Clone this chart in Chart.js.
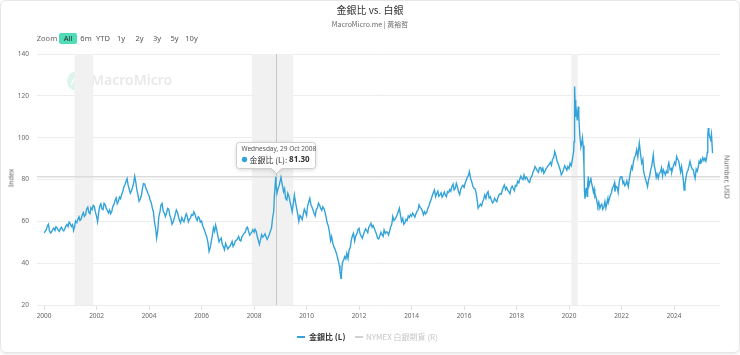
<!DOCTYPE html>
<html><head><meta charset="utf-8">
<script src="https://cdn.jsdelivr.net/npm/chart.js@4.4.1/dist/chart.umd.min.js"></script>
<style>
html,body{margin:0;padding:0;background:#fff;}
#wrap{position:relative;width:740px;height:355px;overflow:hidden;font-family:"Noto Sans","Noto Sans CJK TC",sans-serif;}
#card{position:absolute;left:0;top:0;width:738px;height:351px;border:1px solid #e6e6e6;border-radius:6px;box-shadow:0 1px 3px rgba(0,0,0,0.10);}
canvas{position:absolute;left:0;top:0;}
.t{position:absolute;white-space:nowrap;}
.btn{position:absolute;top:33px;height:11px;line-height:11px;font-size:7.5px;color:#555;text-align:center;width:20px;}
</style></head>
<body>
<div id="wrap">
<div id="card"></div>
<canvas id="c" width="740" height="355"></canvas>
<div class="t" id="title" style="left:0;width:740px;top:3px;text-align:center;font-size:10px;line-height:13px;color:#333;font-family:'Noto Sans CJK TC','Noto Sans',sans-serif;"></div>
<div class="t" id="subtitle" style="left:0;width:740px;top:20px;text-align:center;font-size:7px;line-height:9px;color:#666;font-family:'Noto Sans CJK TC','Noto Sans',sans-serif;"></div>
<div id="zoombar"></div>
<div class="t" id="ytitleL" style="left:11px;top:178px;font-size:7px;color:#666;transform:translate(-50%,-50%) rotate(-90deg);"></div>
<div class="t" id="ytitleR" style="left:727px;top:177px;font-size:7px;color:#666;transform:translate(-50%,-50%) rotate(90deg);"></div>
<div id="legend"></div>
</div>
<script>
// ---- data ----
const chartTitle = "金銀比 vs. 白銀";
const chartSubtitle = "MacroMicro.me | 黃裕哲";
const zoomButtons = ["All","6m","YTD","1y","2y","3y","5y","10y"];
const seriesNames = ["金銀比 (L)", "NYMEX 白銀期貨 (R)"];
const leftAxisTitle = "Index";
const rightAxisTitle = "Number, USD";
const yTicks = [20, 40, 60, 80, 100, 120, 140];
const xTickYears = [2000,2002,2004,2006,2008,2010,2012,2014,2016,2018,2020,2022,2024];
const recessionStart = ["2001-03-01","2007-12-01","2020-02-01"];
const recessionEnd   = ["2001-11-15","2009-06-30","2020-04-30"];
const tooltipDate = "2008-10-29";
const tooltipHeader = "Wednesday, 29 Oct 2008";

// main readings (mid-month and turning points)
const dates = [
"2000-01-03","2000-02-15","2000-03-15","2000-04-15","2000-05-15","2000-06-15","2000-07-15","2000-08-15","2000-09-15","2000-10-15","2000-11-15","2000-12-15",
"2001-01-15","2001-02-15","2001-03-15","2001-04-15","2001-05-15","2001-06-15","2001-07-15","2001-08-15","2001-09-15","2001-10-15","2001-11-15","2001-12-15",
"2002-01-15","2002-02-15","2002-03-15","2002-04-15","2002-05-15","2002-06-15","2002-07-15","2002-08-15","2002-09-15","2002-10-15","2002-11-15","2002-12-15",
"2003-01-15","2003-02-15","2003-03-15","2003-04-15","2003-05-15","2003-06-15","2003-07-15","2003-08-15","2003-09-15","2003-10-15","2003-11-15","2003-12-15",
"2004-01-15","2004-02-15","2004-03-15","2004-04-15","2004-05-15","2004-06-15","2004-07-15","2004-08-15","2004-09-15","2004-10-15","2004-11-15","2004-12-15",
"2005-01-15","2005-02-15","2005-03-15","2005-04-15","2005-05-15","2005-06-15","2005-07-15","2005-08-15","2005-09-15","2005-10-15","2005-11-15","2005-12-15",
"2006-01-15","2006-02-15","2006-03-15","2006-04-15","2006-05-15","2006-06-15","2006-07-15","2006-08-15","2006-09-15","2006-10-15","2006-11-15","2006-12-15",
"2007-01-15","2007-02-15","2007-03-15","2007-04-15","2007-05-15","2007-06-15","2007-07-15","2007-08-15","2007-09-15","2007-10-15","2007-11-15","2007-12-15",
"2008-01-15","2008-02-15","2008-03-15","2008-04-15","2008-05-15","2008-06-15","2008-07-15","2008-08-15","2008-09-15","2008-10-10","2008-10-29","2008-11-15","2008-12-15",
"2009-01-10","2009-02-15","2009-03-15","2009-04-15","2009-05-15","2009-06-15","2009-07-15","2009-08-15","2009-09-15","2009-10-15","2009-11-15","2009-12-15",
"2010-01-15","2010-02-15","2010-03-15","2010-04-15","2010-05-15","2010-06-15","2010-07-15","2010-08-15","2010-09-15","2010-10-15","2010-11-15","2010-12-15",
"2011-01-15","2011-02-15","2011-03-15","2011-04-25","2011-05-15","2011-06-15","2011-07-15","2011-08-15","2011-09-15","2011-10-15","2011-11-15","2011-12-15",
"2012-01-15","2012-02-15","2012-03-15","2012-04-15","2012-05-15","2012-06-15","2012-07-15","2012-08-15","2012-09-15","2012-10-15","2012-11-15","2012-12-15",
"2013-01-15","2013-02-15","2013-03-15","2013-04-15","2013-05-15","2013-06-15","2013-07-15","2013-08-15","2013-09-15","2013-10-15","2013-11-15","2013-12-15",
"2014-01-15","2014-02-15","2014-03-15","2014-04-15","2014-05-15","2014-06-15","2014-07-15","2014-08-15","2014-09-15","2014-10-15","2014-11-15","2014-12-15",
"2015-01-15","2015-02-15","2015-03-15","2015-04-15","2015-05-15","2015-06-15","2015-07-15","2015-08-15","2015-09-15","2015-10-15","2015-11-15","2015-12-15",
"2016-01-15","2016-02-15","2016-03-15","2016-04-15","2016-05-15","2016-06-15","2016-07-15","2016-08-15","2016-09-15","2016-10-15","2016-11-15","2016-12-15",
"2017-01-15","2017-02-15","2017-03-15","2017-04-15","2017-05-15","2017-06-15","2017-07-15","2017-08-15","2017-09-15","2017-10-15","2017-11-15","2017-12-15",
"2018-01-15","2018-02-15","2018-03-15","2018-04-15","2018-05-15","2018-06-15","2018-07-15","2018-08-15","2018-09-15","2018-10-15","2018-11-15","2018-12-15",
"2019-01-15","2019-02-15","2019-03-15","2019-04-15","2019-05-15","2019-06-15","2019-07-15","2019-08-15","2019-09-15","2019-10-15","2019-11-15","2019-12-15",
"2020-01-15","2020-02-15","2020-03-05","2020-03-18","2020-03-30","2020-04-15","2020-05-08","2020-05-25","2020-06-15","2020-07-05","2020-07-27","2020-08-10","2020-08-25","2020-09-08","2020-09-25","2020-10-20","2020-11-10","2020-12-05","2020-12-25",
"2021-01-15","2021-02-05","2021-03-05","2021-04-01","2021-05-01","2021-06-10","2021-07-15","2021-08-15","2021-09-10","2021-10-01","2021-11-01","2021-12-01",
"2022-01-05","2022-02-01","2022-03-01","2022-04-05","2022-05-20","2022-06-15","2022-07-30","2022-09-05","2022-10-08","2022-11-15","2022-12-28",
"2023-01-25","2023-02-25","2023-03-18","2023-04-15","2023-05-26","2023-06-25","2023-08-05","2023-09-01","2023-10-08","2023-11-08","2023-12-15",
"2024-01-08","2024-02-06","2024-03-05","2024-04-15","2024-05-20","2024-06-15","2024-07-10","2024-08-10","2024-09-10","2024-10-20","2024-11-20","2024-12-28",
"2025-01-20","2025-03-06","2025-04-08","2025-04-22","2025-05-10","2025-06-20"
];
const goldSilverRatio = [
54.5,57.8,55.6,55.0,56.8,57.4,55.8,56.6,55.9,56.4,58.5,59.6,
57.5,55.6,60.2,61.0,60.4,63.0,62.4,65.8,64.2,66.5,67.6,64.5,
59.8,67.5,66.0,68.6,66.2,64.0,63.6,67.2,70.0,68.4,71.6,72.8,
76.4,79.2,77.4,73.4,76.2,81.6,75.0,69.6,72.2,78.0,76.0,73.4,
70.2,66.4,60.0,52.0,62.0,67.8,65.0,62.3,66.2,63.0,58.6,61.2,
65.4,62.0,59.2,60.6,61.6,62.4,61.0,63.2,64.6,61.6,62.2,59.6,
58.0,55.2,52.4,45.6,50.2,57.0,58.2,53.0,51.2,49.0,46.4,48.2,
47.6,49.2,48.0,50.6,51.6,51.0,52.6,54.2,56.6,55.4,54.0,56.0,
56.2,52.6,49.0,53.6,53.0,52.6,52.4,55.2,61.6,72.0,81.3,73.4,77.0,
81.0,74.2,71.0,73.4,69.6,64.6,72.6,66.4,60.0,62.2,63.2,64.6,
67.2,71.0,67.0,63.9,65.6,68.7,66.3,67.0,64.4,59.2,55.0,52.7,
47.9,45.2,41.5,32.8,40.2,43.1,44.7,46.2,51.0,54.3,53.0,55.9,
54.0,51.9,55.0,55.6,57.2,59.1,58.0,55.2,51.9,53.0,53.6,55.9,
55.0,53.5,57.2,62.3,61.0,63.2,66.3,59.9,58.6,61.0,62.6,63.2,
63.9,62.0,64.6,67.9,66.2,63.1,63.6,66.2,69.2,72.2,75.0,73.2,
72.0,73.6,72.4,72.6,74.2,75.2,76.6,75.0,78.2,74.2,75.2,77.2,
78.2,81.2,83.8,79.2,75.8,74.0,66.3,68.2,69.2,72.6,73.4,71.2,
70.2,69.4,70.2,71.2,73.2,74.6,77.4,76.2,74.2,75.6,75.8,77.2,
79.2,80.2,80.6,82.2,81.2,79.0,80.6,83.2,86.2,84.2,85.6,84.0,
83.0,85.2,86.6,88.2,89.6,93.4,89.2,86.2,82.2,84.6,85.6,86.2,
87.8,89.4,93.5,124.5,110.0,111.7,114.9,104.0,95.7,99.8,86.2,70.8,75.6,72.0,81.4,79.2,78.2,74.0,72.0,
71.0,67.4,66.3,68.2,67.0,68.7,70.6,73.8,76.6,74.2,76.2,79.2,
81.4,79.0,77.6,76.6,86.2,88.4,94.2,97.4,87.8,82.2,76.6,
81.4,86.4,91.8,84.2,80.6,83.4,84.6,82.2,86.4,84.6,85.6,
88.2,91.0,89.0,86.2,75.0,80.8,84.2,88.6,85.0,80.6,84.0,87.8,
88.6,90.2,93.0,104.6,100.5,92.6
];

// additional in-between readings (wiggles between the main readings)
const extraDates = [
"2000-02-01","2000-03-01","2000-04-01","2000-05-01","2000-06-01","2000-07-01","2000-08-01","2000-09-01","2000-10-01","2000-11-01","2000-12-01",
"2001-01-01","2001-02-01","2001-03-01","2001-04-01","2001-05-01","2001-06-01","2001-07-01","2001-08-01","2001-09-01","2001-10-01","2001-11-01","2001-12-01",
"2002-01-01","2002-02-01","2002-03-01","2002-04-01","2002-05-01","2002-06-01","2002-07-01","2002-08-01","2002-09-01","2002-10-01","2002-11-01","2002-12-01",
"2003-01-01","2003-02-01","2003-03-01","2003-04-01","2003-05-01","2003-06-01","2003-07-01","2003-08-01","2003-09-01","2003-10-01","2003-11-01","2003-12-01",
"2004-01-01","2004-02-01","2004-03-01","2004-04-01","2004-05-01","2004-06-01","2004-07-01","2004-08-01","2004-09-01","2004-10-01","2004-11-01","2004-12-01",
"2005-01-01","2005-02-01","2005-03-01","2005-04-01","2005-05-01","2005-06-01","2005-07-01","2005-08-01","2005-09-01","2005-10-01","2005-11-01","2005-12-01",
"2006-01-01","2006-02-01","2006-03-01","2006-04-01","2006-05-01","2006-06-01","2006-07-01","2006-08-01","2006-09-01","2006-10-01","2006-11-01","2006-12-01",
"2007-01-01","2007-02-01","2007-03-01","2007-04-01","2007-05-01","2007-06-01","2007-07-01","2007-08-01","2007-09-01","2007-10-01","2007-11-01","2007-12-01",
"2008-01-01","2008-02-01","2008-03-01","2008-04-01","2008-05-01","2008-06-01","2008-07-01","2008-08-01","2008-09-01","2008-10-01","2008-11-01","2008-12-01",
"2009-02-01","2009-03-01","2009-04-01","2009-05-01","2009-06-01","2009-07-01","2009-08-01","2009-09-01","2009-10-01","2009-11-01","2009-12-01",
"2010-01-01","2010-02-01","2010-03-01","2010-04-01","2010-05-01","2010-06-01","2010-07-01","2010-08-01","2010-09-01","2010-10-01","2010-11-01","2010-12-01",
"2011-01-01","2011-02-01","2011-03-01","2011-04-01","2011-04-10","2011-05-01","2011-06-01","2011-07-01","2011-08-01","2011-09-01","2011-10-01","2011-11-01","2011-12-01",
"2012-01-01","2012-02-01","2012-03-01","2012-04-01","2012-05-01","2012-06-01","2012-07-01","2012-08-01","2012-09-01","2012-10-01","2012-11-01","2012-12-01",
"2013-01-01","2013-02-01","2013-03-01","2013-04-01","2013-05-01","2013-06-01","2013-07-01","2013-08-01","2013-09-01","2013-10-01","2013-11-01","2013-12-01",
"2014-01-01","2014-02-01","2014-03-01","2014-04-01","2014-05-01","2014-06-01","2014-07-01","2014-08-01","2014-09-01","2014-10-01","2014-11-01","2014-12-01",
"2015-01-01","2015-02-01","2015-03-01","2015-04-01","2015-05-01","2015-06-01","2015-07-01","2015-08-01","2015-09-01","2015-10-01","2015-11-01","2015-12-01",
"2016-01-01","2016-02-01","2016-03-01","2016-04-01","2016-05-01","2016-06-01","2016-07-01","2016-08-01","2016-09-01","2016-10-01","2016-11-01","2016-12-01",
"2017-01-01","2017-02-01","2017-03-01","2017-04-01","2017-05-01","2017-06-01","2017-07-01","2017-08-01","2017-09-01","2017-10-01","2017-11-01","2017-12-01",
"2018-01-01","2018-02-01","2018-03-01","2018-04-01","2018-05-01","2018-06-01","2018-07-01","2018-08-01","2018-09-01","2018-10-01","2018-11-01","2018-12-01",
"2019-01-01","2019-02-01","2019-03-01","2019-04-01","2019-05-01","2019-06-01","2019-07-01","2019-08-01","2019-09-01","2019-10-01","2019-11-01","2019-12-01",
"2020-01-01","2020-02-01","2020-03-10","2020-03-24","2020-04-06","2020-04-24","2020-05-16","2020-06-05","2020-06-25","2020-07-15","2020-08-03","2020-08-18","2020-09-01","2020-09-16","2020-10-05","2020-10-30","2020-11-22","2020-12-15",
"2021-01-01","2021-01-28","2021-02-18","2021-03-18","2021-04-15","2021-05-15","2021-05-28","2021-06-25","2021-07-01","2021-07-30","2021-08-28","2021-09-25","2021-10-15","2021-11-15","2021-12-15",
"2022-01-20","2022-02-15","2022-03-15","2022-04-20","2022-05-05","2022-06-01","2022-06-30","2022-07-15","2022-08-15","2022-08-28","2022-09-20","2022-10-25","2022-11-01","2022-12-01","2022-12-15",
"2023-01-10","2023-02-10","2023-03-05","2023-03-30","2023-04-28","2023-05-10","2023-06-10","2023-07-10","2023-07-25","2023-08-20","2023-09-15","2023-09-25","2023-10-20","2023-11-25","2023-12-01",
"2024-01-22","2024-02-20","2024-03-20","2024-04-01","2024-05-01","2024-05-10","2024-06-01","2024-06-28","2024-07-25","2024-08-25","2024-09-25","2024-10-05","2024-11-05","2024-12-05","2024-12-15",
"2025-01-05","2025-02-05","2025-02-20","2025-03-20","2025-04-01","2025-04-15","2025-04-30","2025-05-25","2025-06-05"
];
const extraRatio = [
56.0,58.6,54.4,56.2,55.6,56.9,55.2,57.2,55.4,57.8,57.4,
58.8,58.4,57.4,59.4,62.2,61.2,64.2,63.2,66.8,63.6,65.6,67.0,
62.4,64.6,68.4,65.6,68.0,65.2,65.4,64.8,68.2,71.2,69.6,70.8,
74.2,77.6,80.4,75.2,74.6,78.4,78.6,72.4,70.8,75.6,77.8,74.8,
72.2,68.8,64.6,56.8,55.4,64.6,68.6,63.8,64.0,65.8,61.4,59.6,
63.6,64.2,60.4,61.8,59.8,63.6,59.8,61.8,62.8,63.4,60.4,61.6,
60.2,56.6,53.8,49.6,47.4,53.6,55.2,55.8,50.2,52.0,47.8,49.4,
46.8,48.2,50.4,49.0,51.0,52.8,50.6,53.4,54.8,57.2,53.4,55.0,
54.8,55.0,50.8,51.4,52.4,54.0,51.4,53.8,57.0,64.8,78.0,75.8,
76.8,75.6,70.2,72.0,67.0,68.6,69.0,63.2,62.8,60.8,65.8,
62.8,69.4,68.2,65.4,62.6,66.4,67.8,65.2,66.0,61.8,57.6,50.8,
49.6,46.6,43.6,39.0,36.2,35.6,41.6,42.0,42.2,47.6,53.2,50.6,54.0,
56.6,52.8,53.6,56.4,54.6,58.0,57.2,56.6,53.8,51.6,54.8,52.8,
54.2,54.8,55.2,58.6,60.4,62.0,64.8,62.6,61.4,59.4,60.4,61.8,
62.4,63.0,63.4,65.4,66.6,64.8,64.6,64.4,67.6,70.4,73.8,71.8,
74.4,72.8,71.6,74.0,71.8,73.8,74.4,77.8,75.8,76.4,72.8,76.6,
76.2,79.6,81.8,80.6,77.0,75.6,70.4,67.2,67.4,70.6,71.0,74.2,
71.8,68.8,71.0,69.4,72.6,73.0,76.4,75.2,74.8,73.2,76.8,74.6,
76.8,78.4,81.6,80.0,80.2,80.4,78.6,81.6,84.6,85.2,83.4,85.8,
85.4,84.0,85.8,87.2,86.8,90.4,91.6,87.6,84.4,83.2,86.6,84.4,
85.2,86.6,98.0,118.0,115.6,108.2,110.0,98.4,97.0,96.2,74.4,73.6,76.2,77.4,77.0,81.0,76.6,75.4,
72.6,68.6,69.2,67.6,65.8,69.4,66.4,71.0,69.0,72.6,76.2,78.4,76.8,73.8,81.2,
78.2,77.0,79.4,80.4,83.8,85.0,90.6,91.6,90.8,95.2,92.6,89.6,84.6,80.0,78.4,
79.6,84.6,88.6,87.0,81.0,82.6,83.0,85.6,81.8,83.4,84.0,83.2,88.0,85.2,83.6,
87.0,89.6,86.0,83.6,82.0,79.2,77.6,83.4,86.0,86.4,84.6,82.8,85.0,86.2,88.6,
89.4,90.4,89.0,88.8,90.8,101.2,102.4,99.0,101.6
];

// ---- helpers ----
function toYear(s){
  const p = s.split("-").map(Number);
  const t = Date.UTC(p[0], p[1]-1, p[2]);
  const a = Date.UTC(p[0],0,1), b = Date.UTC(p[0]+1,0,1);
  return p[0] + (t-a)/(b-a);
}
const points = dates.map((d,i)=>({x: toYear(d), y: goldSilverRatio[i]}))
  .concat(extraDates.map((d,i)=>({x: toYear(d), y: extraRatio[i]})))
  .sort((a,b)=>a.x-b.x);
const LINE = "#34a4d8";

// ---- HTML texts ----
document.getElementById("title").textContent = chartTitle;
document.getElementById("subtitle").textContent = chartSubtitle;
document.getElementById("ytitleL").textContent = leftAxisTitle;
document.getElementById("ytitleR").textContent = rightAxisTitle;
(function(){
  const zb = document.getElementById("zoombar");
  const z = document.createElement("div");
  z.className="btn"; z.style.left="34px"; z.style.width="26px"; z.style.color="#666"; z.textContent="Zoom";
  zb.appendChild(z);
  const centers=[68,86,103,121,139.5,157,174.5,191.5];
  zoomButtons.forEach((b,i)=>{
    const e=document.createElement("div"); e.className="btn"; e.textContent=b;
    if(i===0){ e.style.left="59px"; e.style.width="18px"; e.style.background="#4fdcb7"; e.style.borderRadius="2px"; e.style.color="#2a2a2a"; }
    else { e.style.left=(centers[i]-10)+"px"; }
    zb.appendChild(e);
  });
  const lg=document.getElementById("legend");
  const mk=(l,t,w,h,bg)=>{const d=document.createElement("div");d.style.cssText="position:absolute;left:"+l+"px;top:"+t+"px;width:"+w+"px;height:"+h+"px;background:"+bg;lg.appendChild(d);};
  mk(297,336,8,1.5,LINE);
  const t1=document.createElement("div"); t1.className="t"; t1.style.cssText+="left:309px;top:331px;font-size:8px;line-height:11px;font-weight:bold;color:#333;font-family:'Noto Sans CJK TC','Noto Sans',sans-serif;"; t1.textContent=seriesNames[0]; lg.appendChild(t1);
  mk(355,336,8,1.5,"#d0d0d0");
  const t2=document.createElement("div"); t2.className="t"; t2.style.cssText+="left:366px;top:331px;font-size:8px;line-height:11px;color:#c6c6c6;font-family:'Noto Sans CJK TC','Noto Sans',sans-serif;"; t2.textContent=seriesNames[1]; lg.appendChild(t2);
})();

// ---- plugins ----
const bgPlugin = {
  id:"bg",
  beforeDatasetsDraw(chart){
    const {ctx, chartArea:a, scales:{x,y}} = chart;
    ctx.save();
    // watermark
    ctx.fillStyle = "#dcf4ec";
    ctx.beginPath(); ctx.arc(77,81,10,0,Math.PI*2); ctx.fill();
    ctx.strokeStyle="#ffffff"; ctx.lineWidth=1.2; ctx.beginPath();
    ctx.moveTo(71,85); ctx.lineTo(74,79); ctx.lineTo(77,83); ctx.lineTo(80,77); ctx.lineTo(83,84); ctx.stroke();
    ctx.fillStyle = "#e9e9e9";
    ctx.font = "600 14px 'Noto Sans', sans-serif";
    ctx.textBaseline = "middle";
    ctx.fillText("MacroMicro", 91, 81.5);
    // recessions
    ctx.fillStyle = "#f1f1f1";
    recessionStart.forEach((s,i)=>{
      const x1 = x.getPixelForValue(toYear(s)), x2 = x.getPixelForValue(toYear(recessionEnd[i]));
      ctx.fillRect(x1, a.top, x2-x1, a.bottom-a.top);
    });
    // crosshairs
    const idx = dates.indexOf(tooltipDate);
    const px = x.getPixelForValue(toYear(dates[idx])), py = y.getPixelForValue(goldSilverRatio[idx]);
    ctx.strokeStyle = "#c8c8c8"; ctx.lineWidth = 1;
    ctx.beginPath(); ctx.moveTo(Math.round(px)+0.5, a.top); ctx.lineTo(Math.round(px)+0.5, a.bottom); ctx.stroke();
    ctx.strokeStyle = "#dcdcdc"; ctx.lineWidth = 1.5;
    ctx.beginPath(); ctx.moveTo(a.left, py); ctx.lineTo(a.right, py); ctx.stroke();
    ctx.restore();
  },
  afterDraw(chart){
    const {ctx, scales:{x,y}} = chart;
    const idx = dates.indexOf(tooltipDate);
    const px = x.getPixelForValue(toYear(dates[idx])), py = y.getPixelForValue(goldSilverRatio[idx]);
    const w = 79, h = 26, bx = Math.round(px - 40)+0.5, by = Math.round(py - 35)+0.5;
    ctx.save();
    ctx.shadowColor = "rgba(0,0,0,0.18)"; ctx.shadowBlur = 4; ctx.shadowOffsetY = 1;
    ctx.fillStyle = "#fff"; ctx.strokeStyle = "#cfcfcf"; ctx.lineWidth = 1;
    const r = 3, tipX = Math.round(px)+0.5;
    ctx.beginPath();
    ctx.moveTo(bx+r, by); ctx.lineTo(bx+w-r, by); ctx.quadraticCurveTo(bx+w, by, bx+w, by+r);
    ctx.lineTo(bx+w, by+h-r); ctx.quadraticCurveTo(bx+w, by+h, bx+w-r, by+h);
    ctx.lineTo(tipX+5, by+h); ctx.lineTo(tipX, by+h+5); ctx.lineTo(tipX-5, by+h);
    ctx.lineTo(bx+r, by+h); ctx.quadraticCurveTo(bx, by+h, bx, by+h-r);
    ctx.lineTo(bx, by+r); ctx.quadraticCurveTo(bx, by, bx+r, by);
    ctx.closePath(); ctx.fill();
    ctx.shadowColor = "transparent"; ctx.stroke();
    ctx.textBaseline = "middle";
    ctx.fillStyle = "#555"; ctx.font = "6.5px 'Noto Sans', sans-serif";
    ctx.fillText(tooltipHeader, bx+5, by+7);
    ctx.fillStyle = LINE; ctx.beginPath(); ctx.arc(bx+8, by+17, 2.7, 0, Math.PI*2); ctx.fill();
    ctx.fillStyle = "#333"; ctx.font = "8px 'Noto Sans CJK TC', 'Noto Sans', sans-serif";
    const lab = seriesNames[0] + ": ";
    ctx.fillText(lab, bx+13, by+17.5);
    const lw = ctx.measureText(lab).width;
    ctx.font = "bold 8px 'Noto Sans', sans-serif";
    ctx.fillText(goldSilverRatio[idx].toFixed(2), bx+13+lw, by+17.5);
    ctx.restore();
  }
};

new Chart(document.getElementById("c"), {
  type: "line",
  data: { datasets: [{
    label: seriesNames[0], data: points, borderColor: LINE, borderWidth: 1.4,
    pointRadius: 0, pointHoverRadius: 0, tension: 0, fill: false, yAxisID: "y"
  }]},
  options: {
    responsive: false, animation: false, devicePixelRatio: 1,
    events: [],
    layout: { padding: { top: 54, bottom: 30, left: 0, right: 0 } },
    plugins: { legend: { display: false }, tooltip: { enabled: false }, title: { display: false } },
    scales: {
      x: {
        type: "linear", min: 1999.73, max: 2025.75,
        afterBuildTicks: s => { s.ticks = xTickYears.map(v => ({value: v})); },
        afterFit: s => { s.height = 20; },
        ticks: { color: "#666", font: { size: 6.5, family: "'Noto Sans', sans-serif" }, padding: 2, maxRotation: 0, autoSkip: false,
          callback: v => String(v) },
        grid: { display: true, drawOnChartArea: false, drawTicks: true, tickLength: 5, color: "#e2e2e2" },
        border: { display: false }
      },
      y: {
        position: "left", min: 20, max: 140,
        afterBuildTicks: s => { s.ticks = yTicks.map(v => ({value: v})); },
        afterFit: s => { s.width = 37; },
        ticks: { color: "#666", font: { size: 6.5, family: "'Noto Sans', sans-serif" }, padding: 8 },
        grid: { color: "#ececec", drawTicks: false, lineWidth: 1 },
        border: { display: false }
      },
      y2: {
        position: "right", min: 0, max: 1, display: true,
        afterFit: s => { s.width = 20; },
        ticks: { display: false },
        grid: { display: false, drawOnChartArea: false },
        border: { display: false }
      }
    }
  },
  plugins: [bgPlugin]
});
</script>
</body></html>
